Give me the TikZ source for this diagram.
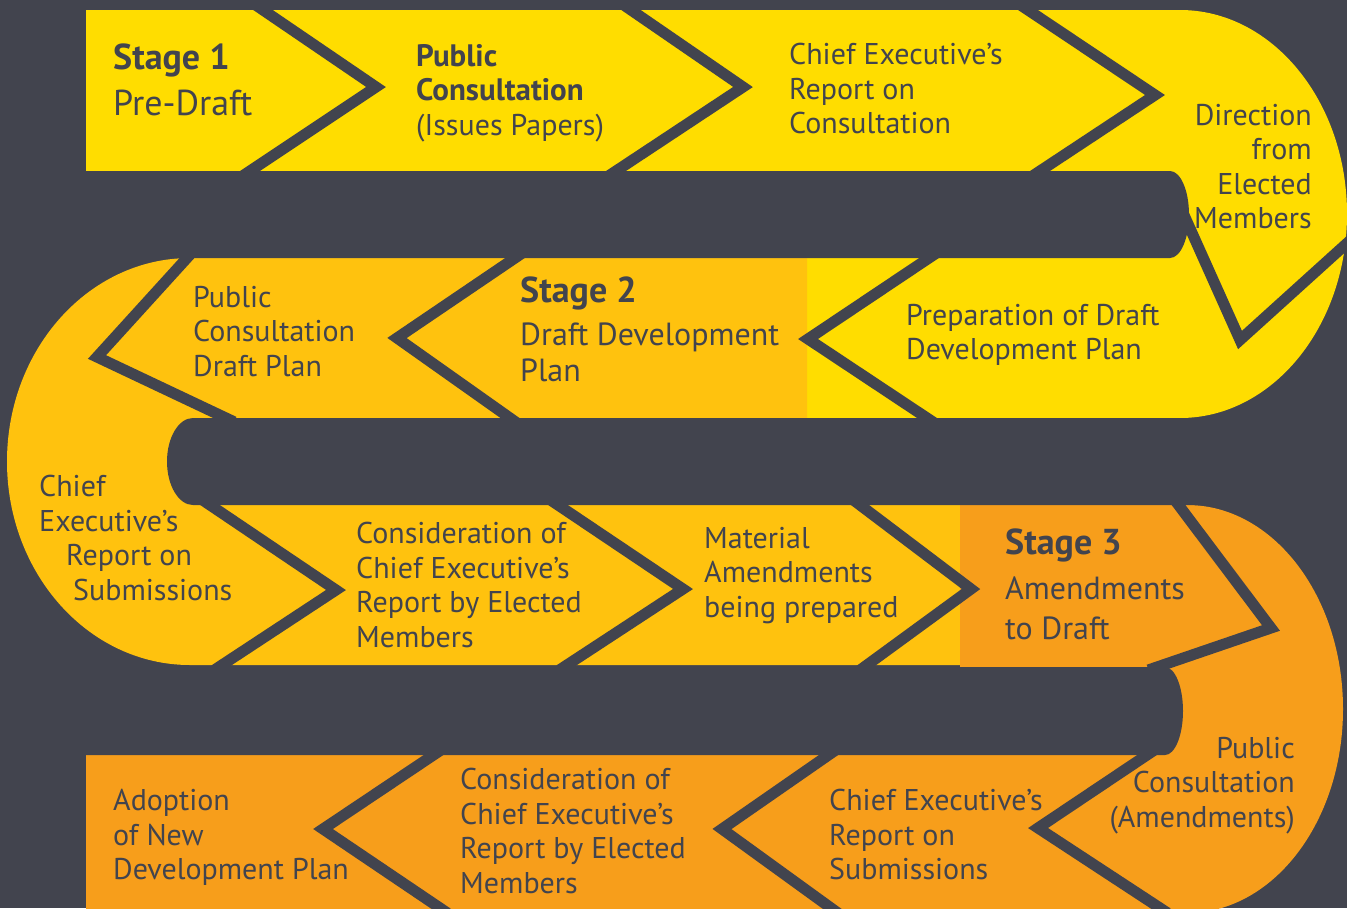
\documentclass[tikz,border=0pt]{standalone}
\usepackage{fontspec}
\setmainfont{PT Sans}
\definecolor{slate}{HTML}{42444E}
\definecolor{lemon}{HTML}{FFDD00}
\definecolor{gold}{HTML}{FFC20E}
\definecolor{amber}{HTML}{F79E1B}
\newcommand{\stg}[1]{{\fontsize{36}{36}\selectfont\bfseries Stage #1}}
\begin{document}
\begin{tikzpicture}[x=1pt,y=-1pt,line join=miter,
	chev/.style={draw=slate,line width=11pt,miter limit=25,shorten <=-9pt,shorten >=-9pt},
	txt/.style={inner sep=0pt,text=slate,align=left,anchor=north west,font=\fontsize{30}{34.5}\selectfont},
	txtr/.style={txt,align=right,anchor=north east},
	stage/.style={txt,font=\fontsize{32}{36}\selectfont}]
	
	\useasboundingbox (0,0) rectangle (1347,908);
	\fill[slate] (0,0) rectangle (1347,908);
	% the winding band
	\fill[lemon] (86,10) -- (1180,10) arc[start angle=-90,end angle=90,x radius=167,y radius=204] -- (807,418) -- (807,171) -- (86,171) -- cycle;
	\fill[gold] (807,258) -- (190,258) arc[start angle=270,end angle=90,x radius=183,y radius=203.5] -- (960,665) -- (960,418) -- (807,418) -- cycle;
	\fill[amber] (960,505) -- (1187,505) arc[start angle=-90,end angle=90,x radius=156,y radius=204] -- (86,913) -- (86,667) -- (960,667) -- cycle;
	% gaps between the rows
	\fill[slate] (0,171) -- (1170,171) arc[start angle=-90,end angle=90,x radius=19,y radius=43.5] -- (0,258) -- cycle;
	\fill[slate] (1347,418) -- (193,418) arc[start angle=270,end angle=90,x radius=26,y radius=43.5] -- (1347,505) -- cycle;
	\fill[slate] (0,667) -- (1165,667) arc[start angle=-90,end angle=90,x radius=18,y radius=44] -- (0,755) -- cycle;
	% chevrons
	\draw[chev] (263,10) -- (376,87) -- (250,171);
	\draw[chev] (631,10) -- (743,87) -- (616,171);
	\draw[chev] (1028,10) -- (1155,95) -- (1040,171);
	\draw[chev] (1184,215) -- (1240,340) -- (1355,236);
	\draw[chev] (929,258) -- (808,339) -- (927,418);
	\draw[chev] (515,258) -- (397,338) -- (510,418);
	\draw[chev] (187,258) -- (97,357) -- (226,418);
	\draw[chev] (210,505) -- (336,590) -- (222,665);
	\draw[chev] (558,505) -- (683,589) -- (567,665);
	\draw[chev] (860,505) -- (971,589) -- (867,665);
	\draw[chev] (1180,507) -- (1271,628) -- (1157,667);
	\draw[chev] (1147,755) -- (1038,828) -- (1160,908);
	\draw[chev] (830,754) -- (722,829) -- (831,908);
	\draw[chev] (435,754) -- (323,829) -- (440,908);
	
	% texts
	\node[stage] (stg1) at (113,44) {\stg{1}\\[10pt]{\fontsize{36}{36}\selectfont Pre-Draft}};
	\node[txt] (pubi) at (416,44) {\textbf{\fontsize{31}{34.5}\selectfont Public}\\\textbf{\fontsize{31}{34.5}\selectfont Consultation}\\(Issues Papers)};
	\node[txt] (repc) at (789,43) {Chief Executive’s\\Report on\\Consultation};
	\node[txtr] (dirm) at (1312,104) {Direction\\from\\Elected\\Members};
	\node[txt] (prep) at (906,304) {Preparation of Draft\\Development Plan};
	\node[stage] (stg2) at (520,277) {\stg{2}\\[7pt]Draft Development\\Plan};
	\node[txt] (pubd) at (193,286) {Public\\Consultation\\Draft Plan};
	\node[txt] (reps) at (39,475) {Chief\\Executive’s\\\hspace*{27pt}Report on\\\hspace*{34pt}Submissions};
	\node[txt] (cons) at (356,522) {Consideration of\\Chief Executive’s\\Report by Elected\\Members};
	\node[txt] (matl) at (704,527) {Material\\Amendments\\being prepared};
	\node[stage] (stg3) at (1005,529) {\stg{3}\\[9pt]Amendments\\[4pt]to Draft};
	\node[txtr] (puba) at (1295,737) {Public\\Consultation\\(Amendments)};
	\node[txt] (repb) at (829,789) {Chief Executive’s\\Report on\\Submissions};
	\node[txt] (conb) at (460,768) {Consideration of\\Chief Executive’s\\Report by Elected\\Members};
	\node[txt] (adop) at (113,789) {Adoption\\of New\\Development Plan};
\end{tikzpicture}
\end{document}
